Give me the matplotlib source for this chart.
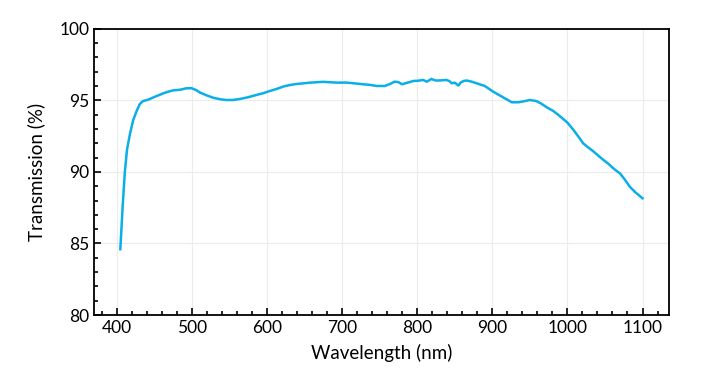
#!/usr/bin/env python3
"""Transmission spectrum chart."""

import matplotlib
matplotlib.use("Agg")
import matplotlib.pyplot as plt
from matplotlib.ticker import MultipleLocator

# Values
wavelength = [405, 408, 411, 414, 418, 422, 427, 431, 435, 442, 453, 465, 475,
              485, 493, 500, 506, 511, 520, 529, 538, 546, 555, 564, 575, 586,
              595, 604, 613, 622, 631, 640, 650, 657, 666, 675, 684, 695, 705,
              715, 728, 738, 746, 757, 764, 770, 775, 780, 788, 795, 802, 808,
              813, 819, 824, 828, 834, 839, 843, 846, 850, 855, 858, 862, 866,
              872, 879, 890, 901, 915, 926, 935, 943, 950, 959, 966, 973, 981,
              990, 1000, 1008, 1015, 1021, 1028, 1035, 1042, 1048, 1055, 1061,
              1066, 1070, 1076, 1083, 1090, 1100]
transmission = [84.6, 87.5, 90.0, 91.6, 92.7, 93.6, 94.3, 94.75, 94.95, 95.05,
                95.3, 95.55, 95.7, 95.75, 95.85, 95.85, 95.72, 95.55, 95.35,
                95.18, 95.08, 95.03, 95.03, 95.1, 95.22, 95.38, 95.5, 95.66,
                95.8, 95.97, 96.08, 96.15, 96.2, 96.24, 96.27, 96.3, 96.27,
                96.24, 96.25, 96.2, 96.13, 96.08, 96.01, 96.01, 96.15, 96.31,
                96.28, 96.13, 96.25, 96.36, 96.38, 96.43, 96.31, 96.5, 96.4,
                96.39, 96.41, 96.43, 96.35, 96.2, 96.24, 96.04, 96.25, 96.36,
                96.39, 96.32, 96.2, 96.01, 95.62, 95.2, 94.87, 94.87, 94.95,
                95.03, 94.95, 94.75, 94.5, 94.27, 93.9, 93.45, 92.94, 92.45,
                92.0, 91.7, 91.42, 91.1, 90.84, 90.55, 90.26, 90.05, 89.9,
                89.5, 88.97, 88.6, 88.16]

LINE_COLOR = '#0aaee8'

plt.rcParams['font.family'] = ['Lato', 'DejaVu Sans']

fig = plt.figure(figsize=(7.07, 3.8), dpi=100)
ax = fig.add_axes([0.133, 0.171, 0.813, 0.753])

ax.plot(wavelength, transmission, color=LINE_COLOR, linewidth=1.8)

ax.set_xlim(370, 1135)
ax.set_ylim(80, 100)
ax.xaxis.set_major_locator(MultipleLocator(100))
ax.xaxis.set_minor_locator(MultipleLocator(20))
ax.yaxis.set_major_locator(MultipleLocator(5))
ax.yaxis.set_minor_locator(MultipleLocator(1))

ax.grid(True, which='major', color='#ececec', linewidth=0.8)
ax.set_axisbelow(True)
ax.tick_params(which='both', direction='in', top=False, right=False,
               labelsize=12.5, width=1.2)
ax.tick_params(which='major', length=5)
ax.tick_params(which='minor', length=3)
for spine in ax.spines.values():
    spine.set_linewidth(1.3)

ax.set_xlabel('Wavelength (nm)', fontsize=13.5, labelpad=6)
ax.set_ylabel('Transmission (%)', fontsize=13.5, labelpad=10)

plt.savefig('out.png', dpi=100)
